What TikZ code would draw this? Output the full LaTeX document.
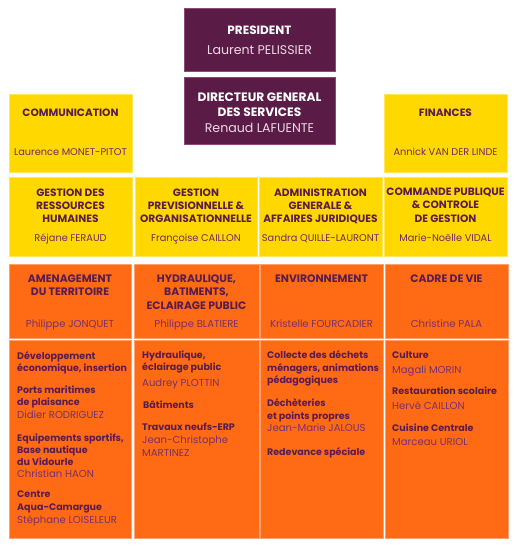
\documentclass[tikz,border=0pt]{standalone}
\usepackage{fontspec}
\setmainfont{Poppins}
\definecolor{purp}{HTML}{5B1B47}
\definecolor{purpedge}{HTML}{8A4A78}
\definecolor{yel}{HTML}{FFD800}
\definecolor{yeledge}{HTML}{FFE65A}
\definecolor{ora}{HTML}{FF6A14}
\definecolor{oraedge}{HTML}{FFA070}
\definecolor{txt}{HTML}{5A1C4E}
\definecolor{txtname}{HTML}{6E2C60}
\definecolor{oname}{HTML}{7A3068}
\definecolor{pink}{HTML}{EED8E6}
\begin{document}
\begin{tikzpicture}[x=1pt,y=-1pt,
  box/.style={inner sep=0,outer sep=0,anchor=north west,line width=0.7pt},
  pbox/.style={box,fill=purp,draw=purpedge},
  ybox/.style={box,fill=yel,draw=yeledge},
  obox/.style={box,fill=ora,draw=oraedge},
  lt/.style={inner sep=0,anchor=base},
  ptitle/.style={lt,text=white,font=\bfseries\fontsize{12}{13}\selectfont},
  dgtitle/.style={lt,text=white,font=\bfseries\fontsize{12.2}{13}\selectfont},
  pname/.style={lt,text=pink,font=\fontsize{12.6}{13}\selectfont},
  ytitle/.style={lt,text=txt,font=\bfseries\fontsize{10.6}{12}\selectfont},
  yname/.style={lt,text=txtname,font=\fontsize{9.8}{12}\selectfont},
  otitle/.style={lt,text=txt,font=\bfseries\fontsize{10.8}{12}\selectfont},
  oname/.style={lt,text=oname,font=\fontsize{10.1}{12}\selectfont},
  bt/.style={inner sep=0,anchor=base west,text=txt,font=\bfseries\fontsize{9.5}{12}\selectfont},
  bn/.style={inner sep=0,anchor=base west,text=oname,font=\fontsize{10.1}{12}\selectfont}
]
\path[use as bounding box,fill=white] (0,0) rectangle (515,547);
% top
\node[pbox,minimum width=151pt,minimum height=63pt] (pres) at (184,8) {};
\node[pbox,minimum width=151pt,minimum height=67pt] (dg) at (184,77) {};
\node[ybox,minimum width=123pt,minimum height=78pt] (comm) at (9,94) {};
\node[ybox,minimum width=123pt,minimum height=78pt] (fin) at (384,94) {};
\node[ptitle] (presT) at (259.5,34) {PRESIDENT};
\node[pname] (presN) at (259.5,54) {Laurent PELISSIER};
\node[dgtitle] (dgT1) at (259.5,101) {DIRECTEUR GENERAL};
\node[dgtitle] (dgT2) at (259.5,116.5) {DES SERVICES};
\node[pname] (dgN) at (259.5,132.5) {Renaud LAFUENTE};
\node[ytitle] (commT) at (70.5,116) {COMMUNICATION};
\node[yname] (commN) at (70.5,155) {Laurence MONET-PITOT};
\node[ytitle] (finT) at (445.5,116) {FINANCES};
\node[yname] (finN) at (445.5,155) {Annick VAN DER LINDE};
% row 2
\node[ybox,minimum width=123pt,minimum height=79pt] (rh) at (9,177) {};
\node[ybox,minimum width=122pt,minimum height=79pt] (gpo) at (135,177) {};
\node[ybox,minimum width=123pt,minimum height=79pt] (agj) at (259,177) {};
\node[ybox,minimum width=123pt,minimum height=79pt] (cp) at (384,177) {};
\node[ytitle] (rhT1) at (70.5,196) {GESTION DES};
\node[ytitle] (rhT2) at (70.5,209) {RESSOURCES};
\node[ytitle] (rhT3) at (70.5,222) {HUMAINES};
\node[yname] (rhN) at (70.5,241.5) {Réjane FERAUD};
\node[ytitle] (gpoT1) at (196,196) {GESTION};
\node[ytitle] (gpoT2) at (196,209) {PREVISIONNELLE \&};
\node[ytitle] (gpoT3) at (196,222) {ORGANISATIONNELLE};
\node[yname] (gpoN) at (196,241.5) {Françoise CAILLON};
\node[ytitle] (agjT1) at (320.5,196) {ADMINISTRATION};
\node[ytitle] (agjT2) at (320.5,209) {GENERALE \&};
\node[ytitle] (agjT3) at (320.5,222) {AFFAIRES JURIDIQUES};
\node[yname] (agjN) at (320.5,241.5) {Sandra QUILLE-LAURONT};
\node[ytitle] (cpT1) at (445.5,195) {COMMANDE PUBLIQUE};
\node[ytitle] (cpT2) at (445.5,208.5) {\& CONTROLE};
\node[ytitle] (cpT3) at (445.5,222) {DE GESTION};
\node[yname] (cpN) at (445.5,241.5) {Marie-Noëlle VIDAL};
% row 3 headers
\node[obox,minimum width=122pt,minimum height=74pt] (amh) at (9,264) {};
\node[obox,minimum width=125pt,minimum height=74pt] (hyh) at (134,264) {};
\node[obox,minimum width=123pt,minimum height=74pt] (envh) at (260,264) {};
\node[obox,minimum width=123pt,minimum height=74pt] (cvh) at (385,264) {};
\node[otitle] (amT1) at (70,282) {AMENAGEMENT};
\node[otitle] (amT2) at (70,295) {DU TERRITOIRE};
\node[oname] (amN) at (70,327) {Philippe JONQUET};
\node[otitle] (hyT1) at (196.5,282) {HYDRAULIQUE,};
\node[otitle] (hyT2) at (196.5,295.5) {BATIMENTS,};
\node[otitle] (hyT3) at (196.5,309) {ECLAIRAGE PUBLIC};
\node[oname] (hyN) at (196.5,327) {Philippe BLATIERE};
\node[otitle] (envT) at (321.5,282) {ENVIRONNEMENT};
\node[oname] (envN) at (321.5,327) {Kristelle FOURCADIER};
\node[otitle] (cvT) at (446.5,282) {CADRE DE VIE};
\node[oname] (cvN) at (446.5,327) {Christine PALA};
% row 3 bodies
\node[obox,minimum width=122pt,minimum height=198pt] (amb) at (9,340) {};
\node[obox,minimum width=125pt,minimum height=198pt] (hyb) at (134,340) {};
\node[obox,minimum width=123pt,minimum height=198pt] (envb) at (260,340) {};
\node[obox,minimum width=123pt,minimum height=198pt] (cvb) at (385,340) {};
% col 1
\node[bt] (a1) at (17,359) {Développement};
\node[bt] (a2) at (17,371) {économique, insertion};
\node[bt] (a3) at (17,393) {Ports maritimes};
\node[bt] (a4) at (17,405) {de plaisance};
\node[bn] (a5) at (17,418) {Didier RODRIGUEZ};
\node[bt] (a6) at (17,441) {Equipements sportifs,};
\node[bt] (a7) at (17,453) {Base nautique};
\node[bt] (a8) at (17,465) {du Vidourle};
\node[bn] (a9) at (17,477) {Christian HAON};
\node[bt] (a10) at (17,497) {Centre};
\node[bt] (a11) at (17,510) {Aqua-Camargue};
\node[bn] (a12) at (17,523) {Stéphane LOISELEUR};
% col 2
\node[bt] (b1) at (142,358) {Hydraulique,};
\node[bt] (b2) at (142,370) {éclairage public};
\node[bn] (b3) at (142,386) {Audrey PLOTTIN};
\node[bt] (b4) at (143,408) {Bâtiments};
\node[bt] (b5) at (142,430) {Travaux neufs-ERP};
\node[bn] (b6) at (142,443) {Jean-Christophe};
\node[bn] (b7) at (142,456) {MARTINEZ};
% col 3
\node[bt] (c1) at (267,358) {Collecte des déchets};
\node[bt] (c2) at (267,371) {ménagers, animations};
\node[bt] (c3) at (267,383) {pédagogiques};
\node[bt] (c4) at (267,406) {Déchèteries};
\node[bt] (c5) at (267,419) {et points propres};
\node[bn] (c6) at (267,431) {Jean-Marie JALOUS};
\node[bt] (c7) at (267,455) {Redevance spéciale};
% col 4
\node[bt] (d1) at (392,358) {Culture};
\node[bn] (d2) at (392,373) {Magali MORIN};
\node[bt] (d3) at (392,394) {Restauration scolaire};
\node[bn] (d4) at (392,409) {Hervé CAILLON};
\node[bt] (d5) at (392,431) {Cuisine Centrale};
\node[bn] (d6) at (392,445) {Marceau URIOL};
\end{tikzpicture}
\end{document}
